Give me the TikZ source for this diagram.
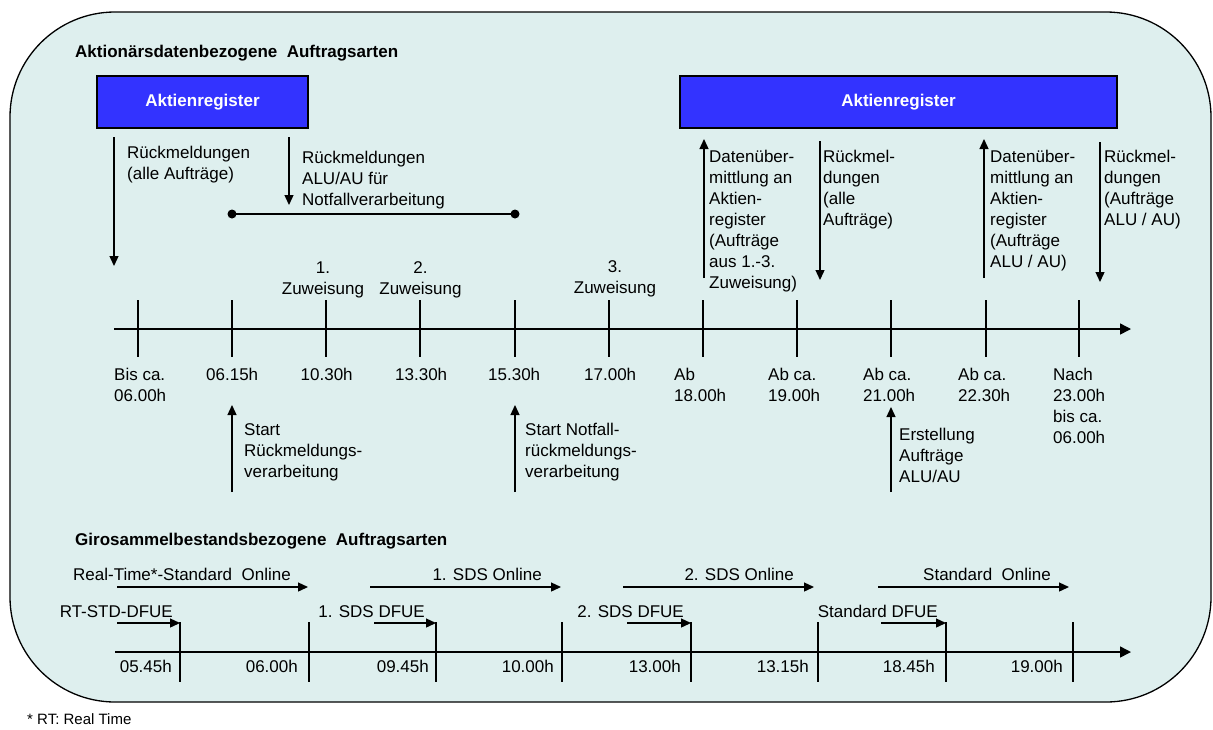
\documentclass[tikz,border=0pt]{standalone}
\usepackage{fontspec}
\setmainfont{Liberation Sans}
\usetikzlibrary{arrows.meta}
\definecolor{bgfill}{RGB}{222,239,238}
\definecolor{regblue}{RGB}{51,51,255}
\newcommand\labfont{\fontsize{17}{21}\selectfont}
\newcommand\notefont{\fontsize{15}{18}\selectfont}
\newcommand\dsp{\hspace{0.556em}}
\begin{document}
\begin{tikzpicture}[x=1pt,y=-1pt,
  lbl/.style={inner sep=0pt, anchor=north west, align=left, font=\labfont},
  lblr/.style={inner sep=0pt, anchor=north east, align=right, font=\labfont},
  lblc/.style={inner sep=0pt, anchor=north, align=center, font=\labfont},
  ttl/.style={inner sep=0pt, anchor=north west, font=\labfont\bfseries},
  regbox/.style={draw=black, fill=regblue, line width=1.5pt, text=white, font=\labfont\bfseries, minimum height=52pt, inner sep=0pt},
  arr/.style={line width=1.3pt, -{Triangle[length=10pt,width=9pt]}},
  axis/.style={line width=1.5pt, -{Triangle[length=11pt,width=11pt]}},
  tickline/.style={line width=1.5pt},
  dotend/.style={circle, fill=black, inner sep=0pt, minimum size=9pt},
]
\useasboundingbox (0,0) rectangle (1213,729);
% frame
\draw[fill=bgfill, line width=1.3pt, rounded corners=105pt] (10,12) rectangle (1211,702);

% titles
\node[ttl] (title1) at (75,43) {\strut Aktionärsdatenbezogene\dsp Auftragsarten};
\node[ttl] (title2) at (75,531) {\strut Girosammelbestandsbezogene\dsp Auftragsarten};

% register boxes
\node[regbox, minimum width=211pt] (reg1) at (202.5,102) {Aktienregister};
\node[regbox, minimum width=437pt] (reg2) at (898.5,102) {Aktienregister};

% top-left arrows
\coordinate (a1s) at (114,137); \coordinate (a1e) at (114,266);
\draw[arr] (a1s) -- (a1e);
\node[lbl] (l1) at (127,144) {\strut Rückmeldungen\\(alle Aufträge)};
\coordinate (a2s) at (289,137); \coordinate (a2e) at (289,205);
\draw[arr] (a2s) -- (a2e);
\node[lbl] (l2) at (302,149) {\strut Rückmeldungen\\ALU/AU für\\Notfallverarbeitung};

% dot line
\node[dotend] (dl) at (232,214) {};
\node[dotend] (dr) at (515,214) {};
\draw[line width=1.3pt] (dl.center) -- (dr.center);

% top-right arrows
\coordinate (a3s) at (704,278); \coordinate (a3e) at (704,139);
\draw[arr] (a3s) -- (a3e);
\node[lbl] (l3) at (709,148) {\strut Datenüber-\\mittlung an\\Aktien-\\register\\(Aufträge\\aus 1.-3.\\Zuweisung)};
\coordinate (a4s) at (820,141); \coordinate (a4e) at (820,280);
\draw[arr] (a4s) -- (a4e);
\node[lbl] (l4) at (823,148) {\strut Rückmel-\\dungen\\(alle\\Aufträge)};
\coordinate (a5s) at (984,278); \coordinate (a5e) at (984,139);
\draw[arr] (a5s) -- (a5e);
\node[lbl] (l5) at (990,148) {\strut Datenüber-\\mittlung an\\Aktien-\\register\\(Aufträge\\ALU / AU)};
\coordinate (a6s) at (1100,142); \coordinate (a6e) at (1100,282);
\draw[arr] (a6s) -- (a6e);
\node[lbl] (l6) at (1104,148) {\strut Rückmel-\\dungen\\(Aufträge\\ALU / AU)};

% Zuweisung labels
\node[lblc] (z1) at (323,259) {\strut 1.\\Zuweisung};
\node[lblc] (z2) at (420.5,259) {\strut 2.\\Zuweisung};
\node[lblc] (z3) at (615,258) {\strut 3.\\Zuweisung};

% main timeline
\coordinate (ax1s) at (114,329); \coordinate (ax1e) at (1131,329);
\draw[axis] (ax1s) -- (ax1e);
\foreach \x [count=\i] in {138,232,326,420,515,609,703,797,891,986,1079}{
  \coordinate (tt\i) at (\x,300); \coordinate (tb\i) at (\x,357);
  \draw[tickline] (tt\i) -- (tb\i);
}

% time labels top
\node[lbl] (h1) at (114,366) {\strut Bis ca.\\06.00h};
\node[lbl] (h2) at (206,366) {\strut 06.15h};
\node[lbl] (h3) at (300.5,366) {\strut 10.30h};
\node[lbl] (h4) at (395,366) {\strut 13.30h};
\node[lbl] (h5) at (488,366) {\strut 15.30h};
\node[lbl] (h6) at (584,366) {\strut 17.00h};
\node[lbl] (h7) at (674,366) {\strut Ab\\18.00h};
\node[lbl] (h8) at (768,366) {\strut Ab ca.\\19.00h};
\node[lbl] (h9) at (863,366) {\strut Ab ca.\\21.00h};
\node[lbl] (h10) at (958,366) {\strut Ab ca.\\22.30h};
\node[lbl] (h11) at (1053,366) {\strut Nach\\23.00h\\bis ca.\\06.00h};

% up arrows below
\coordinate (u1s) at (232,492); \coordinate (u1e) at (232,405);
\draw[arr] (u1s) -- (u1e);
\node[lbl] (s1) at (244,421) {\strut Start\\Rückmeldungs-\\verarbeitung};
\coordinate (u2s) at (515,492); \coordinate (u2e) at (515,405);
\draw[arr] (u2s) -- (u2e);
\node[lbl] (s2) at (525,421) {\strut Start Notfall-\\rückmeldungs-\\verarbeitung};
\coordinate (u3s) at (891,492); \coordinate (u3e) at (891,407);
\draw[arr] (u3s) -- (u3e);
\node[lbl] (s3) at (899,426) {\strut Erstellung\\Aufträge\\ALU/AU};

% bottom: online arrows
\foreach \a/\b [count=\i] in {117/308,370/561,623/814,878/1069}{
  \coordinate (o\i s) at (\a,587); \coordinate (o\i e) at (\b,587);
  \draw[arr] (o\i s) -- (o\i e);
}
\node[lblr] (on1) at (291,566) {\strut Real-Time*-Standard\dsp Online};
\node[lblr] (on2) at (542,566) {\strut 1. SDS Online};
\node[lblr] (on3) at (794,566) {\strut 2. SDS Online};
\node[lblr] (on4) at (1051,566) {\strut Standard\dsp Online};

% bottom: DFUE arrows with verticals
\foreach \a/\b [count=\i] in {117/180,374/436,627/691,881/946}{
  \coordinate (f\i s) at (\a,623); \coordinate (f\i e) at (\b,623);
  \coordinate (fv\i t) at (\b,622); \coordinate (fv\i b) at (\b,682);
  \draw[tickline] (fv\i t) -- (fv\i b);
  \draw[arr] (f\i s) -- (f\i e);
}
\node[lblr] (df1) at (173,603) {\strut RT-STD-DFUE};
\node[lblr] (df2) at (425,603) {\strut 1. SDS DFUE};
\node[lblr] (df3) at (684,603) {\strut 2. SDS DFUE};
\node[lblr] (df4) at (938,603) {\strut Standard DFUE};

% other verticals
\foreach \x [count=\i] in {309,562,818,1073}{
  \coordinate (gv\i t) at (\x,622); \coordinate (gv\i b) at (\x,682);
  \draw[tickline] (gv\i t) -- (gv\i b);
}

% bottom timeline
\coordinate (ax2s) at (115,652); \coordinate (ax2e) at (1131,652);
\draw[axis] (ax2s) -- (ax2e);

% bottom time labels
\node[lblr] (b1) at (172,658) {\strut 05.45h};
\node[lblr] (b2) at (298,658) {\strut 06.00h};
\node[lblr] (b3) at (429,658) {\strut 09.45h};
\node[lblr] (b4) at (554,658) {\strut 10.00h};
\node[lblr] (b5) at (681,658) {\strut 13.00h};
\node[lblr] (b6) at (809,658) {\strut 13.15h};
\node[lblr] (b7) at (935,658) {\strut 18.45h};
\node[lblr] (b8) at (1063,658) {\strut 19.00h};

% footnote
\node[inner sep=0pt, anchor=north west, font=\notefont] (note) at (27,712) {\strut * RT: Real Time};
\end{tikzpicture}
\end{document}
